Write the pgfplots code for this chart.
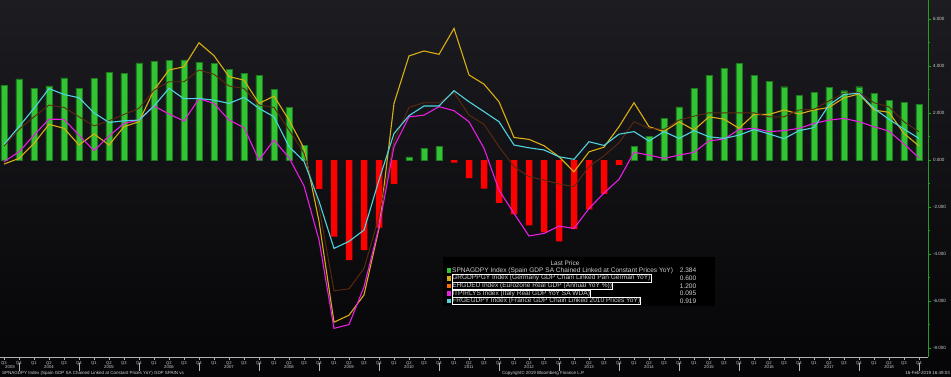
\documentclass[border=0pt]{standalone}
\usepackage{pgfplots}
\pgfplotsset{compat=1.18}
\usepackage{pgfplotstable}
\usepackage{fontspec}
\setmainfont{Liberation Sans}
\definecolor{bgtop}{HTML}{1C1C21}
\definecolor{bgbot}{HTML}{050507}
\definecolor{spgreen}{HTML}{33C433}
\definecolor{spedge}{HTML}{1E7A1E}
\definecolor{spred}{HTML}{FF0000}
\definecolor{degold}{HTML}{D9AE12}
\definecolor{ezbrown}{HTML}{5E2A0E}
\definecolor{ezorange}{HTML}{FF6A00}
\definecolor{itmag}{HTML}{E81EE0}
\definecolor{frcyan}{HTML}{4FD4DF}
\definecolor{axgreen}{HTML}{1FA01F}
\definecolor{txt}{HTML}{D0D0D0}

\pgfplotstableread{
i sp de ez it fr
0 3.19 -0.17 0.60 -0.07 0.67
1 3.45 0.07 1.30 0.35 1.42
2 3.06 0.71 1.84 1.06 2.20
3 3.16 1.52 2.34 1.74 3.04
4 3.50 1.35 2.24 1.73 2.79
5 3.06 0.64 1.84 1.06 2.65
6 3.47 1.11 1.45 0.40 2.01
7 3.73 0.64 1.67 1.02 1.60
8 3.69 1.42 1.94 1.56 1.67
9 4.13 1.63 2.20 1.70 1.70
10 4.20 2.98 2.98 2.30 2.30
11 4.23 3.83 3.33 1.96 3.05
12 4.26 3.97 3.33 1.66 2.61
13 4.16 4.99 3.83 2.61 2.62
14 4.10 4.44 3.65 2.41 2.55
15 3.86 3.55 3.15 1.70 2.41
16 3.69 3.40 3.05 1.38 2.67
17 3.59 2.41 2.34 0.00 2.20
18 3.01 2.72 2.24 0.85 1.84
19 2.23 1.70 1.28 0.10 0.57
20 0.64 0.50 0.30 -1.10 -0.05
21 -1.23 -2.60 -2.00 -3.40 -1.75
22 -3.26 -6.90 -5.56 -7.16 -3.76
23 -4.26 -6.60 -5.48 -7.00 -3.46
24 -3.83 -5.74 -4.61 -5.40 -2.98
25 -2.88 -2.91 -2.41 -2.84 -0.85
26 -1.01 2.41 0.80 0.57 1.13
27 0.13 4.43 2.24 1.84 1.89
28 0.51 4.64 2.44 1.91 2.30
29 0.57 4.50 2.44 2.27 2.30
30 -0.11 5.60 2.87 2.10 2.95
31 -0.77 3.62 1.91 1.63 2.48
32 -1.22 3.23 1.52 0.50 2.06
33 -1.82 2.48 0.57 -1.28 1.63
34 -2.31 0.96 -0.28 -2.27 0.64
35 -2.78 0.88 -0.71 -3.23 0.52
36 -3.08 0.61 -0.85 -3.12 0.43
37 -3.46 0.14 -1.02 -2.81 0.14
38 -2.94 -0.50 -1.13 -2.91 0.03
39 -2.10 0.35 -0.28 -2.06 0.78
40 -1.44 0.55 0.18 -1.40 0.62
41 -0.20 1.42 0.74 -0.82 1.10
42 0.57 2.44 1.63 0.33 1.21
43 1.02 1.42 1.35 0.21 0.81
44 1.77 1.21 1.30 0.07 1.21
45 2.26 1.63 1.70 0.21 0.92
46 3.05 1.28 1.87 0.33 1.25
47 3.60 1.84 2.01 0.82 0.99
48 3.91 1.74 2.01 0.89 0.92
49 4.11 1.35 2.01 1.30 1.06
50 3.60 1.94 2.01 1.35 1.30
51 3.35 1.94 1.84 1.21 1.11
52 3.12 2.13 1.84 1.25 0.91
53 2.75 1.96 2.13 1.35 1.25
54 2.88 2.13 2.16 1.56 1.38
55 3.08 2.24 2.52 1.70 2.34
56 2.95 2.65 2.84 1.77 2.79
57 3.12 2.81 2.87 1.63 2.84
58 2.85 2.13 2.44 1.42 2.20
59 2.54 2.03 2.27 1.23 1.73
60 2.45 1.13 1.63 0.68 1.32
61 2.384 0.600 1.200 0.095 0.919
}\gdp

\begin{document}
\begin{tikzpicture}[x=1bp,y=1bp]
\shade[top color=bgtop,bottom color=bgbot] (0bp,0bp) rectangle (951bp,377bp);
\begin{axis}[
  at={(0bp,20bp)}, anchor=south west,
  scale only axis, width=928bp, height=357bp,
  xmin=-0.267, xmax=61.6, ymin=-8.38, ymax=6.81,
  clip=false,
  axis x line*=bottom, axis y line*=right,
  x axis line style={draw=gray!60, line width=0.8bp},
  y axis line style={draw=axgreen, line width=0.8bp},
  ytick={-8,-6,...,6}, minor ytick={-7,-5,...,5},
  ytick style={draw=axgreen, line width=0.6bp},
  minor tick length=2bp, major tick length=3bp,
  tick align=outside,
  yticklabel style={font=\fontsize{4.6}{5}\selectfont, text=txt, xshift=-1.5bp},
  /pgf/number format/.cd, fixed, fixed zerofill, precision=3, 1000 sep={}, assume math mode=true,
  /pgfplots/.cd,
  xtick={0,...,61},
  xtick style={draw=gray!60, line width=0.5bp},
  xticklabels={Q3,Q4,Q1,Q2,Q3,Q4,Q1,Q2,Q3,Q4,Q1,Q2,Q3,Q4,Q1,Q2,Q3,Q4,Q1,Q2,Q3,Q4,Q1,Q2,Q3,Q4,Q1,Q2,Q3,Q4,Q1,Q2,Q3,Q4,Q1,Q2,Q3,Q4,Q1,Q2,Q3,Q4,Q1,Q2,Q3,Q4,Q1,Q2,Q3,Q4,Q1,Q2,Q3,Q4,Q1,Q2,Q3,Q4,Q1,Q2,Q3,Q4},
  xticklabel style={font=\fontsize{4.2}{4.5}\selectfont, text=txt, yshift=2bp},
]
\addplot[ybar, bar width=6.5bp, bar shift=0pt, fill=spgreen, draw=spedge, line width=0.4bp,
  restrict y to domain=0:10, unbounded coords=discard] table[x=i,y=sp]{\gdp};
\addplot[ybar, bar width=6.5bp, bar shift=0pt, fill=spred, draw=none,
  restrict y to domain=-10:0, unbounded coords=discard] table[x=i,y=sp]{\gdp};
\addplot[degold, line width=1.1bp, mark=none] table[x=i,y=de]{\gdp};
\addplot[ezbrown, line width=0.9bp, mark=none] table[x=i,y=ez]{\gdp};
\addplot[itmag, line width=1.1bp, mark=none] table[x=i,y=it]{\gdp};
\addplot[frcyan, line width=1.1bp, mark=none] table[x=i,y=fr]{\gdp};
\node[font=\fontsize{4.3}{4.5}\selectfont, text=txt] at ([yshift=-10.5bp]axis cs:0.4,-8.38) {2003};
\pgfplotsinvokeforeach{2004,...,2018}{
  \node[font=\fontsize{4.3}{4.5}\selectfont, text=txt] at ([yshift=-10.5bp]axis cs:{3+4*(#1-2004)},-8.38) {#1};
}
\pgfplotsinvokeforeach{1,5,...,61}{
  \draw[gray!60, line width=0.5bp] ([yshift=-6bp]axis cs:#1,-8.38) -- ([yshift=-14bp]axis cs:#1,-8.38);
}
\end{axis}
% bottom strip
\node[anchor=west, font=\fontsize{4.5}{5}\selectfont, text=txt, inner sep=0] at (2bp,4bp) {SPNAGDPY Index (Spain GDP SA Chained Linked at Constant Prices YoY) GDP SPAIN vs};
\node[anchor=west, font=\fontsize{4.5}{5}\selectfont, text=txt, inner sep=0] at (502bp,4bp) {Copyright\textcopyright{} 2019 Bloomberg Finance L.P.};
\node[anchor=east, font=\fontsize{4.5}{5}\selectfont, text=txt, inner sep=0] at (950bp,4bp) {16-Feb-2019 16:49:03};
% legend
\fill[black] (443bp,71bp) rectangle (715bp,120bp);
\node[font=\fontsize{6.5}{7}\selectfont, text=txt, inner sep=0] at (565bp,113.7bp) {Last Price};
\begin{scope}[every node/.style={font=\fontsize{6.6}{7}\selectfont, text=txt, inner sep=0.5bp}]
\fill[spgreen] (446.5bp,104bp) rectangle (451bp,108.5bp);
\node[anchor=west] at (451.5bp,106.3bp) {SPNAGDPY Index (Spain GDP SA Chained Linked at Constant Prices YoY)};
\node[anchor=east] at (697bp,106.3bp) {2.384};
\fill[degold] (446.5bp,96.4bp) rectangle (451bp,100.9bp);
\node[anchor=west, draw=white, line width=0.5bp] at (451.5bp,98.7bp) {GRGDPPGY Index (Germany GDP Chain Linked Pan German YoY)};
\node[anchor=east] at (697bp,98.7bp) {0.600};
\fill[ezorange] (446.5bp,88.7bp) rectangle (451bp,93.2bp);
\node[anchor=west, draw=white, line width=0.5bp] at (451.5bp,91bp) {EHGDEU Index (Eurozone Real GDP (Annual YoY \%))};
\node[anchor=east] at (697bp,91bp) {1.200};
\fill[itmag] (446.5bp,81bp) rectangle (451bp,85.5bp);
\node[anchor=west, draw=white, line width=0.5bp] at (451.5bp,83.3bp) {ITPIRLYS Index (Italy Real GDP YoY SA WDA)};
\node[anchor=east] at (697bp,83.3bp) {0.095};
\fill[frcyan] (446.5bp,73.7bp) rectangle (451bp,78.2bp);
\node[anchor=west, draw=white, line width=0.5bp] at (451.5bp,76bp) {FRGEGDPY Index (France GDP Chain Linked 2010 Prices YoY)};
\node[anchor=east] at (697bp,76bp) {0.919};
\end{scope}
\pgfresetboundingbox
\path[use as bounding box] (0bp,0bp) rectangle (951bp,377bp);
\end{tikzpicture}
\end{document}
